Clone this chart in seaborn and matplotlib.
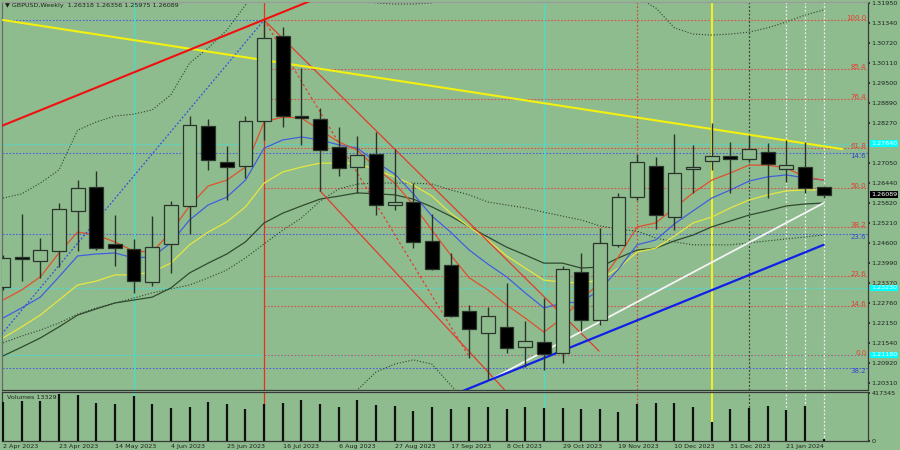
import numpy as np
import pandas as pd
import matplotlib
matplotlib.use('Agg')
import matplotlib.pyplot as plt
import matplotlib.transforms as mtransforms
import seaborn as sns

# GBPUSD semanal (semanas a partir de 2 Apr 2023)
weeks = pd.date_range('2023-04-02', periods=45, freq='7D')

opens = [1.2326, 1.2418, 1.2406, 1.2436, 1.2559, 1.2632, 1.2458, 1.2442, 1.2341, 1.2458,
         1.2574, 1.2819, 1.2709, 1.2696, 1.2834, 1.3094, 1.2849, 1.2840, 1.2754, 1.2693,
         1.2733, 1.2577, 1.2586, 1.2467, 1.2393, 1.2253, 1.2185, 1.2204, 1.2142, 1.2158,
         1.2124, 1.2372, 1.2225, 1.2455, 1.2601, 1.2696, 1.2540, 1.2687, 1.2711, 1.2727,
         1.2718, 1.2739, 1.2687, 1.2693, 1.26318]
highs = [1.2424, 1.2549, 1.2476, 1.2583, 1.2653, 1.2681, 1.2546, 1.2473, 1.2543, 1.2589,
         1.2849, 1.2840, 1.2757, 1.2849, 1.3143, 1.3122, 1.2996, 1.2874, 1.2816, 1.2788,
         1.2800, 1.2748, 1.2644, 1.2549, 1.2430, 1.2271, 1.2265, 1.2338, 1.2222, 1.2292,
         1.2390, 1.2430, 1.2506, 1.2614, 1.2733, 1.2724, 1.2794, 1.2761, 1.2828, 1.2770,
         1.2791, 1.2767, 1.2776, 1.2770, 1.26356]
lows = [1.2317, 1.2344, 1.2354, 1.2387, 1.2436, 1.2439, 1.2390, 1.2308, 1.2329, 1.2369,
        1.2488, 1.2684, 1.2592, 1.2659, 1.2776, 1.2816, 1.2761, 1.2620, 1.2666, 1.2614,
        1.2546, 1.2562, 1.2445, 1.2378, 1.2234, 1.2110, 1.2041, 1.2124, 1.2081, 1.2072,
        1.2093, 1.2191, 1.2210, 1.2448, 1.2592, 1.2503, 1.2500, 1.2614, 1.2684, 1.2614,
        1.2709, 1.2598, 1.2647, 1.2614, 1.25975]
closes = [1.2415, 1.2412, 1.2439, 1.2565, 1.2629, 1.2445, 1.2445, 1.2344, 1.2448, 1.2577,
          1.2822, 1.2715, 1.2693, 1.2834, 1.3088, 1.2849, 1.2843, 1.2745, 1.2690, 1.2730,
          1.2577, 1.2586, 1.2464, 1.2381, 1.2237, 1.2197, 1.2237, 1.2139, 1.2161, 1.2121,
          1.2381, 1.2225, 1.2461, 1.2601, 1.2709, 1.2546, 1.2675, 1.2693, 1.2727, 1.2718,
          1.2748, 1.2702, 1.2699, 1.2628, 1.26089]
volumes = [339000, 348000, 348000, 409000, 400000, 330000, 322000, 391000, 322000, 287000,
           296000, 339000, 322000, 278000, 322000, 330000, 356000, 322000, 296000, 356000,
           313000, 304000, 261000, 296000, 278000, 296000, 296000, 278000, 296000, 287000,
           287000, 278000, 278000, 252000, 322000, 330000, 330000, 296000, 165000, 278000,
           287000, 304000, 270000, 304000, 13329]

# medias moveis
ma_red = [1.2286, 1.2317, 1.2357, 1.2430, 1.2494, 1.2485, 1.2464, 1.2436, 1.2433, 1.2494,
          1.2574, 1.2635, 1.2653, 1.2693, 1.2831, 1.2846, 1.2843, 1.2806, 1.2770, 1.2745,
          1.2690, 1.2644, 1.2577, 1.2500, 1.2424, 1.2354, 1.2317, 1.2271, 1.2231, 1.2188,
          1.2231, 1.2286, 1.2341, 1.2418, 1.2510, 1.2522, 1.2568, 1.2614, 1.2653, 1.2675,
          1.2699, 1.2699, 1.2690, 1.2663, 1.2653]
ma_blue = [1.2231, 1.2262, 1.2295, 1.2357, 1.2421, 1.2427, 1.2430, 1.2415, 1.2418, 1.2461,
           1.2531, 1.2577, 1.2601, 1.2653, 1.2751, 1.2776, 1.2785, 1.2776, 1.2761, 1.2751,
           1.2708, 1.2672, 1.2611, 1.2543, 1.2494, 1.2439, 1.2396, 1.2357, 1.2308, 1.2262,
           1.2277, 1.2280, 1.2317, 1.2381, 1.2455, 1.2470, 1.2519, 1.2559, 1.2598, 1.2623,
           1.2650, 1.2663, 1.2669, 1.2660, 1.2653]
ma_yellow = [1.2170, 1.2204, 1.2240, 1.2286, 1.2332, 1.2344, 1.2363, 1.2363, 1.2372, 1.2399,
             1.2455, 1.2494, 1.2525, 1.2571, 1.2644, 1.2678, 1.2693, 1.2705, 1.2705, 1.2705,
             1.2684, 1.2663, 1.2638, 1.2604, 1.2552, 1.2510, 1.2470, 1.2421, 1.2384, 1.2347,
             1.2341, 1.2338, 1.2347, 1.2384, 1.2433, 1.2445, 1.2482, 1.2522, 1.2540, 1.2568,
             1.2592, 1.2608, 1.2620, 1.2623, 1.2623]
ma_dark = [1.2115, 1.2142, 1.2170, 1.2204, 1.2240, 1.2259, 1.2277, 1.2286, 1.2295, 1.2323,
           1.2369, 1.2399, 1.2427, 1.2464, 1.2522, 1.2552, 1.2574, 1.2595, 1.2604, 1.2614,
           1.2611, 1.2608, 1.2595, 1.2571, 1.2543, 1.2510, 1.2479, 1.2448, 1.2424, 1.2399,
           1.2399, 1.2384, 1.2387, 1.2415, 1.2439, 1.2445, 1.2467, 1.2485, 1.2510, 1.2528,
           1.2546, 1.2559, 1.2574, 1.2580, 1.2583]
# bandas de bollinger (pontilhadas)
bb_mid = [1.2155, 1.2176, 1.2194, 1.2216, 1.2243, 1.2262, 1.2277, 1.2292, 1.2308, 1.2320,
          1.2332, 1.2354, 1.2378, 1.2415, 1.2458, 1.2500, 1.2537, 1.2589, 1.2626, 1.2641,
          1.2644, 1.2644, 1.2644, 1.2641, 1.2623, 1.2608, 1.2586, 1.2577, 1.2568, 1.2555,
          1.2543, 1.2531, 1.2513, 1.2503, 1.2497, 1.2476, 1.2464, 1.2455, 1.2455, 1.2455,
          1.2461, 1.2467, 1.2473, 1.2479, 1.2485]
bb_up = [1.2598, 1.2611, 1.2644, 1.2684, 1.2806, 1.2831, 1.2849, 1.2855, 1.2868, 1.2914,
         1.3011, 1.3057, 1.3112, 1.3189, 1.3265, 1.3311, 1.3311, 1.3281, 1.3241, 1.3213,
         1.3195, 1.3192, 1.3192, 1.3195, 1.3220, 1.3250, 1.3281, 1.3296, 1.3296, 1.3290,
         1.3281, 1.3265, 1.3250, 1.3235, 1.3213, 1.3180, 1.3119, 1.3100, 1.3097, 1.3100,
         1.3106, 1.3119, 1.3137, 1.3158, 1.3174]
bb_low = [1.1705, 1.1729, 1.1742, 1.1742, 1.1674, 1.1689, 1.1705, 1.1720, 1.1742, 1.1735,
          1.1659, 1.1650, 1.1644, 1.1644, 1.1628, 1.1644, 1.1689, 1.1766, 1.1858, 1.2011,
          1.2066, 1.2090, 1.2103, 1.2090, 1.2026, 1.1965, 1.1919, 1.1882, 1.1858, 1.1843,
          1.1827, 1.1812, 1.1797, 1.1791, 1.1800, 1.1790, 1.1808, 1.1812, 1.1815, 1.1812,
          1.1815, 1.1815, 1.1810, 1.1800, 1.1795]

# niveis de fibonacci
fib_red_labels = ['100.0', '85.4', '76.4', '61.8', '50.0', '38.2', '23.6', '14.6', '0.0']
fib_red_prices = [1.3143, 1.2992, 1.2900, 1.2750, 1.2630, 1.2510, 1.2360, 1.2268, 1.2118]
fib_blue_labels = ['', '14.6', '23.6', '38.2']
fib_blue_prices = [1.3143, 1.2737, 1.2488, 1.2078]
cyan_prices = [1.2764, 1.2323, 1.2118]

# linhas de tendencia: (indice, preco)
tl_yellow = ([0.0, 45.0], [1.3143, 1.2748])
tl_red = ([-0.2, 17.5], [1.2816, 1.3225])
tl_blue_dot = ([-0.2, 14.0], [1.2173, 1.3143])
tl_chan_up = ([14.0, 31.96], [1.3143, 1.2130])
tl_chan_low = ([17.0, 26.9], [1.2620, 1.2011])
tl_red_dot = ([14.0, 25.0], [1.3143, 1.2112])
tl_white = ([26.0, 44.0], [1.2038, 1.2583])
tl_blue = ([24.66, 44.0], [1.2008, 1.2455])

# 1.27660 fica escondido atras da caixa ciano
price_ticks = [1.31950, 1.31340, 1.30720, 1.30110, 1.29500, 1.28890, 1.28270,
               1.27050, 1.26440, 1.25820, 1.25210, 1.24600, 1.23990, 1.23370, 1.22760,
               1.22150, 1.21540, 1.20920, 1.20310]

bg = '#8fbc8f'
ink = '#1c241c'
sns.set_theme(style='white', rc={'axes.facecolor': bg, 'figure.facecolor': bg})
plt.rcParams['font.family'] = ['DejaVu Sans']

idx = np.arange(len(weeks))
o = np.array(opens); h = np.array(highs); l = np.array(lows); c = np.array(closes)

fig = plt.figure(figsize=(9, 4.5), dpi=100)
ax = fig.add_axes([2/900, 60/450, 866/900, 388/450])
axv = fig.add_axes([2/900, 9/450, 866/900, 49/450], sharex=ax)

ax.set_xlim(-0.054, 46.38)
ax.set_ylim(1.20108, 1.31981)
axv.set_ylim(0, 426000)

xr = ax.get_xlim()[1]
dot = (0, (1.5, 1.5))

# linhas horizontais
for p in fib_blue_prices:
    ax.hlines(p, -1, 14 if p == fib_blue_prices[0] else xr, color='#4a62d8', lw=0.8, ls=dot, zorder=1)
for p in cyan_prices:
    ax.hlines(p, -1, xr, color='#3fe0e0', lw=0.8, ls=dot, zorder=1)
for p in fib_red_prices:
    ax.hlines(p, 14, xr, color='#d8504a', lw=0.8, ls=dot, zorder=1)

# linhas verticais
for a in (ax, axv):
    a.axvline(7, color='#40e0d0', lw=0.9, zorder=1)
    a.axvline(29, color='#40e0d0', lw=0.9, zorder=1)
    a.axvline(14, color='#e8301c', lw=0.9, zorder=1)
    a.axvline(34, color='#c8503c', lw=0.9, ls=dot, zorder=1)
    a.axvline(38, color='#f4f020', lw=1.4, zorder=1)
    a.axvline(40, color='#3a463a', lw=0.9, ls=dot, zorder=1)
    for i in (42, 43, 44):
        a.axvline(i, color='#eeeeee', lw=0.9, ls=dot, zorder=1)

# medias e bandas
sns.lineplot(x=idx, y=bb_up, ax=ax, color='#2f3f2f', lw=0.8, linestyle=':', zorder=2)
sns.lineplot(x=idx, y=bb_mid, ax=ax, color='#2f3f2f', lw=0.8, linestyle=':', zorder=2)
sns.lineplot(x=idx, y=bb_low, ax=ax, color='#2f3f2f', lw=0.8, linestyle=':', zorder=2)
sns.lineplot(x=idx, y=ma_dark, ax=ax, color='#2f4a2f', lw=0.9, zorder=2)
sns.lineplot(x=idx, y=ma_yellow, ax=ax, color='#e6e640', lw=0.9, zorder=2)
sns.lineplot(x=idx, y=ma_blue, ax=ax, color='#3f5fe0', lw=0.9, zorder=2)
sns.lineplot(x=idx, y=ma_red, ax=ax, color='#e0502c', lw=0.9, zorder=2)

# linhas de tendencia
ax.plot(*tl_blue_dot, color='#3050e0', lw=0.9, ls=dot, zorder=3)
ax.plot(*tl_red_dot, color='#e04030', lw=0.9, ls=(0, (2, 2)), zorder=3)
ax.plot(*tl_chan_up, color='#e03c2c', lw=0.9, zorder=3)
ax.plot(*tl_chan_low, color='#e03c2c', lw=0.9, zorder=3)
ax.plot(*tl_yellow, color='#f4f010', lw=1.5, zorder=3)
ax.plot(*tl_red, color='#f01010', lw=1.5, zorder=3)
ax.plot(*tl_white, color='#f4f4f4', lw=1.3, zorder=3)
ax.plot(*tl_blue, color='#1020e8', lw=1.6, zorder=3)

# velas
edge = '#2a342a'
bull = c >= o
ax.vlines(idx, l, h, color=edge, lw=1.0, zorder=4)
body = np.maximum(np.abs(c - o), 0.0004)
ax.bar(idx[bull], body[bull], bottom=np.minimum(o, c)[bull], width=0.74,
       facecolor=bg, edgecolor=edge, linewidth=0.9, zorder=5)
ax.bar(idx[~bull], body[~bull], bottom=np.minimum(o, c)[~bull], width=0.74,
       facecolor='black', edgecolor=edge, linewidth=0.9, zorder=5)

# volumes
axv.vlines(idx, 0, volumes, color='#101010', lw=1.6, zorder=4)

# rotulos fibonacci
blend = mtransforms.blended_transform_factory(ax.transAxes, ax.transData)
for lab, p in zip(fib_red_labels, fib_red_prices):
    ax.text(0.998, p, lab, transform=blend, ha='right', va='baseline',
            fontsize=5, color='#e83a30', zorder=6)
for lab, p in zip(fib_blue_labels, fib_blue_prices):
    if lab:
        ax.text(0.998, p, lab, transform=blend, ha='right', va='top',
                fontsize=5, color='#3448d0', zorder=6)

# eixo de precos
fs = 4.6
ax.yaxis.tick_right()
ax.set_yticks(price_ticks)
ax.set_yticklabels([f'{t:.5f}' for t in price_ticks])
ax.tick_params(axis='y', labelsize=fs, length=1.5, pad=1, colors=ink, direction='out')
ax.tick_params(axis='x', bottom=False, labelbottom=False)
for p in cyan_prices:
    ax.text(1.0035, p, f'{p:.5f}', transform=blend, ha='left', va='center', fontsize=fs,
            color='white', clip_on=False, zorder=10,
            bbox=dict(boxstyle='square,pad=0.15', fc='#00ffff', ec='none'))
ax.text(1.0035, closes[-1], f'{closes[-1]:.5f}', transform=blend, ha='left', va='center',
        fontsize=fs, color='white', clip_on=False, zorder=10,
        bbox=dict(boxstyle='square,pad=0.15', fc='black', ec='none'))

axv.yaxis.tick_right()
axv.set_yticks([417345, 0])
axv.set_yticklabels(['417345', '0'])
axv.tick_params(axis='y', labelsize=fs, length=1.5, pad=1, colors=ink)
xt = idx[::3]
axv.set_xticks(xt)
axv.set_xticklabels([f'{weeks[i].day} {weeks[i].strftime("%b %Y")}' for i in xt])
axv.tick_params(axis='x', labelsize=fs, length=1.5, pad=1, colors=ink)
for t in axv.get_xticklabels():
    t.set_ha('left')

for a in (ax, axv):
    for s in a.spines.values():
        s.set_color('#3a3a3a')
        s.set_linewidth(0.9)
ax.spines['top'].set_color('#9a9a9a')
ax.spines['left'].set_color('#6a6a6a')

fig.text(5/900, 1 - 6/450, '\u25bc GBPUSD,Weekly  1.26318 1.26356 1.25975 1.26089',
         fontsize=fs, color=ink, va='center')
axv.text(5/866, 0.93, 'Volumes 13329', transform=axv.transAxes, fontsize=fs,
         color=ink, va='top', zorder=6)

fig.savefig('out.png', dpi=100, facecolor=bg)
